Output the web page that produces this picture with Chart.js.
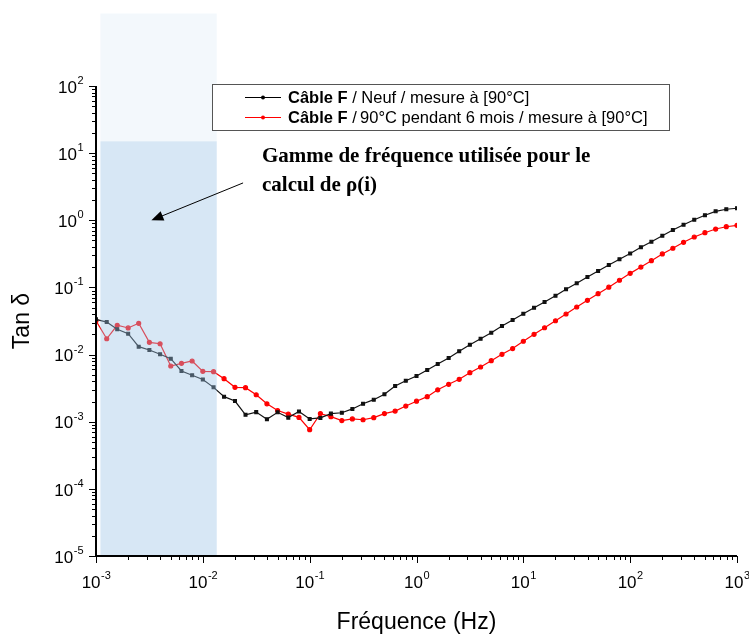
<!DOCTYPE html>
<html>
<head>
<meta charset="utf-8">
<script src="https://cdn.jsdelivr.net/npm/chart.js@4.4.1/dist/chart.umd.min.js"></script>
<style>
  html, body { margin: 0; padding: 0; background: #fff; }
</style>
</head>
<body>
<canvas id="tanDeltaChart" width="749" height="634"></canvas>
<script>
// frequency points (Hz), 10 per decade
const frequencies = [
  0.001, 0.00126, 0.00158, 0.002, 0.00251, 0.00316, 0.00398, 0.00501, 0.00631, 0.00794,
  0.01, 0.0126, 0.0158, 0.02, 0.0251, 0.0316, 0.0398, 0.0501, 0.0631, 0.0794,
  0.1, 0.126, 0.158, 0.2, 0.251, 0.316, 0.398, 0.501, 0.631, 0.794,
  1, 1.26, 1.58, 2, 2.51, 3.16, 3.98, 5.01, 6.31, 7.94,
  10, 12.6, 15.8, 20, 25.1, 31.6, 39.8, 50.1, 63.1, 79.4,
  100, 126, 158, 200, 251, 316, 398, 501, 631, 794,
  1000
];

const tanNew = [
  0.0335, 0.0305, 0.0238, 0.0205, 0.0131, 0.0117, 0.0101, 0.00868, 0.00569, 0.00491,
  0.00425, 0.00325, 0.00236, 0.00203, 0.00127, 0.00139, 0.00109, 0.00138, 0.00115, 0.00142,
  0.0011, 0.00114, 0.00132, 0.00136, 0.00155, 0.00185, 0.00213, 0.00256, 0.0034, 0.00408,
  0.0048, 0.00589, 0.00723, 0.00889, 0.0112, 0.014, 0.0172, 0.0212, 0.0266, 0.0327,
  0.0406, 0.0499, 0.0607, 0.0753, 0.0938, 0.115, 0.143, 0.176, 0.216, 0.263,
  0.32, 0.396, 0.48, 0.589, 0.716, 0.859, 1.02, 1.19, 1.36, 1.46,
  1.51
];

const tanAged = [
  0.0319, 0.0172, 0.0273, 0.0249, 0.0292, 0.0152, 0.0145, 0.00676, 0.00741, 0.00802,
  0.00563, 0.00556, 0.00437, 0.00325, 0.00321, 0.00252, 0.00185, 0.00147, 0.0013, 0.00116,
  0.00076, 0.00132, 0.00119, 0.00104, 0.0011, 0.00107, 0.00115, 0.00132, 0.00144, 0.00171,
  0.00202, 0.00236, 0.00299, 0.00361, 0.00428, 0.00537, 0.00653, 0.00811, 0.0101, 0.0123,
  0.0158, 0.02, 0.0251, 0.0319, 0.0402, 0.0511, 0.0643, 0.0806, 0.101, 0.128,
  0.162, 0.201, 0.25, 0.315, 0.383, 0.47, 0.564, 0.653, 0.741, 0.802,
  0.841
];

const xExponents = [-3, -2, -1, 0, 1, 2, 3];
const yExponents = [2, 1, 0, -1, -2, -3, -4, -5];

const legendItems = [
  { bold: "Câble F", rest: " / Neuf / mesure à [90°C]", color: "#000000" },
  { bold: "Câble F", rest: " /\u200990°C pendant 6 mois / mesure à [90°C]", color: "#ff0000" }
];
const noteLines = ["Gamme de fréquence utilisée pour le", "calcul de \u03c1(i)"];

// frequency band used for rho(i)
const bandStart = 0.0011;
const bandEnd = 0.0135;
const bandTop = 15;
const bandFadeTop = 1200;

const toPoints = (vals) => frequencies.map((f, i) => ({ x: f, y: vals[i] }));

const SANS = "'Liberation Sans', Arial, sans-serif";
const SERIF = "'Liberation Serif', 'Times New Roman', serif";

function drawPower(ctx, exp, x, y, align) {
  const base = "10";
  const sup = String(exp);
  ctx.font = "17px " + SANS;
  const wb = ctx.measureText(base).width;
  ctx.font = "11px " + SANS;
  const ws = ctx.measureText(sup).width;
  const left = align === "right" ? x - wb - ws : x - (wb + ws) / 2;
  ctx.textAlign = "left";
  ctx.textBaseline = "middle";
  ctx.font = "17px " + SANS;
  ctx.fillText(base, left, y + 2);
  ctx.font = "11px " + SANS;
  ctx.fillText(sup, left + wb + 0.5, y - 5);
}

const bandPlugin = {
  id: "band",
  afterDatasetsDraw(chart) {
    const { ctx, scales: { x, y }, chartArea } = chart;
    const x0 = x.getPixelForValue(bandStart);
    const x1 = x.getPixelForValue(bandEnd);
    const yTop = y.getPixelForValue(bandTop);
    const yFade = y.getPixelForValue(bandFadeTop);
    ctx.save();
    ctx.fillStyle = "rgba(155, 194, 230, 0.12)";
    ctx.fillRect(x0, yFade, x1 - x0, yTop - yFade);
    ctx.fillStyle = "rgba(155, 194, 230, 0.4)";
    ctx.fillRect(x0, yTop, x1 - x0, chartArea.bottom - yTop);
    ctx.restore();
  }
};

const axesPlugin = {
  id: "axesDecor",
  afterDraw(chart) {
    const { ctx, scales: { x, y }, chartArea } = chart;
    ctx.save();
    ctx.strokeStyle = "#000";
    ctx.fillStyle = "#000";
    ctx.lineWidth = 1;

    // x ticks
    for (let e = -3; e <= 3; e++) {
      for (let m = 1; m <= 9; m++) {
        if (e === 3 && m > 1) break;
        const px = Math.round(x.getPixelForValue(m * Math.pow(10, e))) + 0.5;
        const len = m === 1 ? 7 : 4;
        ctx.beginPath();
        ctx.moveTo(px, chartArea.bottom);
        ctx.lineTo(px, chartArea.bottom + len);
        ctx.stroke();
      }
    }
    // y ticks
    for (let e = -5; e <= 2; e++) {
      for (let m = 1; m <= 9; m++) {
        if (e === 2 && m > 1) break;
        const py = Math.round(y.getPixelForValue(m * Math.pow(10, e))) + 0.5;
        const len = m === 1 ? 7 : 4;
        ctx.beginPath();
        ctx.moveTo(chartArea.left, py);
        ctx.lineTo(chartArea.left - len, py);
        ctx.stroke();
      }
    }

    // axis lines
    ctx.lineWidth = 2;
    ctx.beginPath();
    ctx.moveTo(chartArea.left, chartArea.top);
    ctx.lineTo(chartArea.left, chartArea.bottom);
    ctx.lineTo(chartArea.right, chartArea.bottom);
    ctx.stroke();

    // tick labels
    xExponents.forEach((e) => {
      drawPower(ctx, e, x.getPixelForValue(Math.pow(10, e)), chartArea.bottom + 25, "center");
    });
    yExponents.forEach((e) => {
      drawPower(ctx, e, chartArea.left - 13, y.getPixelForValue(Math.pow(10, e)), "right");
    });

    // axis titles
    ctx.font = "23px " + SANS;
    ctx.textAlign = "center";
    ctx.textBaseline = "middle";
    ctx.fillText("Fréquence (Hz)", (chartArea.left + chartArea.right) / 2, chartArea.bottom + 67);
    ctx.save();
    ctx.translate(23, (chartArea.top + chartArea.bottom) / 2);
    ctx.rotate(-Math.PI / 2);
    ctx.fillText("Tan \u03b4", 0, 0);
    ctx.restore();

    // legend box
    const lx = 212, ly = 84, lw = 457, lh = 46;
    ctx.fillStyle = "#fff";
    ctx.fillRect(lx, ly, lw, lh);
    ctx.strokeStyle = "#555";
    ctx.lineWidth = 1;
    ctx.strokeRect(lx + 0.5, ly + 0.5, lw, lh);
    legendItems.forEach((item, i) => {
      const cy = ly + 13 + i * 20;
      ctx.strokeStyle = item.color;
      ctx.fillStyle = item.color;
      ctx.beginPath();
      ctx.moveTo(245, cy + 0.5);
      ctx.lineTo(281, cy + 0.5);
      ctx.stroke();
      ctx.beginPath();
      ctx.arc(263, cy + 0.5, 2, 0, Math.PI * 2);
      ctx.fill();
      ctx.fillStyle = "#000";
      ctx.textAlign = "left";
      ctx.textBaseline = "middle";
      ctx.font = "bold 16.5px " + SANS;
      ctx.fillText(item.bold, 288, cy + 1);
      const wb = ctx.measureText(item.bold).width;
      ctx.font = "16.5px " + SANS;
      ctx.fillText(item.rest, 288 + wb, cy + 1);
    });

    // note + arrow
    ctx.fillStyle = "#000";
    ctx.font = "bold 21px " + SERIF;
    ctx.textAlign = "left";
    ctx.textBaseline = "middle";
    ctx.fillText(noteLines[0], x.getPixelForValue(0.0358), y.getPixelForValue(8.8));
    ctx.fillText(noteLines[1], x.getPixelForValue(0.0358), y.getPixelForValue(3.24));

    const ax0 = x.getPixelForValue(0.0238), ay0 = y.getPixelForValue(3.6);
    const ax1 = x.getPixelForValue(0.0033), ay1 = y.getPixelForValue(1.0);
    const ang = Math.atan2(ay1 - ay0, ax1 - ax0);
    ctx.strokeStyle = "#000";
    ctx.lineWidth = 1;
    ctx.beginPath();
    ctx.moveTo(ax0, ay0);
    ctx.lineTo(ax1 - 8 * Math.cos(ang), ay1 - 8 * Math.sin(ang));
    ctx.stroke();
    ctx.beginPath();
    ctx.moveTo(ax1, ay1);
    ctx.lineTo(ax1 - 12 * Math.cos(ang) + 5 * Math.sin(ang), ay1 - 12 * Math.sin(ang) - 5 * Math.cos(ang));
    ctx.lineTo(ax1 - 12 * Math.cos(ang) - 5 * Math.sin(ang), ay1 - 12 * Math.sin(ang) + 5 * Math.cos(ang));
    ctx.closePath();
    ctx.fill();
    ctx.restore();
  }
};

new Chart(document.getElementById("tanDeltaChart").getContext("2d"), {
  type: "line",
  data: {
    datasets: [
      {
        label: "Câble F / Neuf / mesure à [90°C]",
        data: toPoints(tanNew),
        borderColor: "#111",
        backgroundColor: "#111",
        borderWidth: 1.2,
        pointStyle: "rect",
        pointRadius: 2,
        tension: 0,
      },
      {
        label: "Câble F / 90°C pendant 6 mois / mesure à [90°C]",
        data: toPoints(tanAged),
        borderColor: "#ff0000",
        backgroundColor: "#ff0000",
        borderWidth: 1.2,
        pointStyle: "circle",
        pointRadius: 2,
        tension: 0,
      },
    ],
  },
  options: {
    responsive: false,
    animation: false,
    layout: { padding: { left: 96, right: 12, top: 86, bottom: 78 } },
    plugins: { legend: { display: false }, tooltip: { enabled: false } },
    scales: {
      x: {
        type: "logarithmic",
        min: 0.001,
        max: 1000,
        ticks: { display: false },
        grid: { display: false, drawTicks: false },
        border: { display: false },
      },
      y: {
        type: "logarithmic",
        min: 1e-5,
        max: 100,
        ticks: { display: false },
        grid: { display: false, drawTicks: false },
        border: { display: false },
      },
    },
  },
  plugins: [bandPlugin, axesPlugin],
});
</script>
</body>
</html>
